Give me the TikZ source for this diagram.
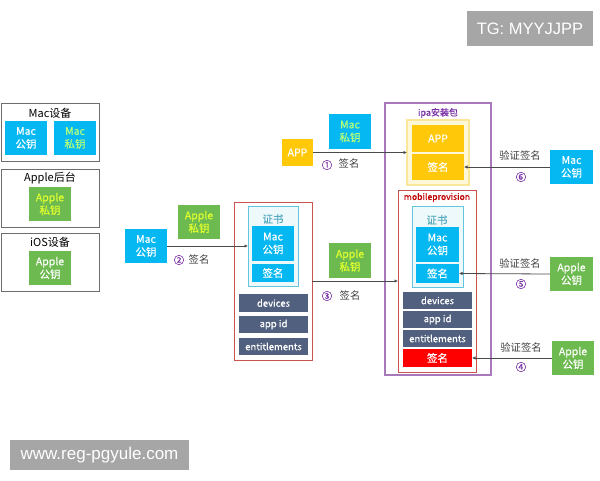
\documentclass[tikz,border=0pt]{standalone}
\usepackage{fontspec}
\setmainfont{Noto Sans CJK SC}
\newfontfamily\medfont[FakeBold=0.35]{Noto Sans CJK SC}
\newfontfamily\wmfont{Liberation Sans}
\usetikzlibrary{arrows.meta}
\definecolor{cyanbox}{HTML}{05B8F2}
\definecolor{greenbox}{HTML}{6DBB50}
\definecolor{goldbox}{HTML}{FFC90A}
\definecolor{slatebox}{HTML}{50607E}
\definecolor{limetxt}{HTML}{E2FF2E}
\definecolor{minttxt}{HTML}{B4FF7A}
\definecolor{framegray}{HTML}{6E6E6E}
\definecolor{framered}{HTML}{C9544F}
\definecolor{framepurple}{HTML}{A878BC}
\definecolor{framecyan}{HTML}{62C6DE}
\definecolor{frameyellow}{HTML}{FBE79A}
\definecolor{fillyellow}{HTML}{FFF8D8}
\definecolor{fillcyan}{HTML}{EEF9FC}
\definecolor{circlepurple}{HTML}{7A2FA8}
\definecolor{wmgray}{HTML}{A6A6A6}
\definecolor{linegray}{HTML}{4A4A4A}
\tikzset{
  base/.style={inner sep=0pt,outer sep=0pt,align=center,font=\medfont\fontsize{10.5}{13}\selectfont},
  title/.style={base,text=black,font=\fontsize{11}{13}\selectfont},
  keybox/.style={base,text=white},
  cyanfill/.style={keybox,fill=cyanbox},
  greenfill/.style={keybox,fill=greenbox},
  goldfill/.style={keybox,fill=goldbox},
  slatefill/.style={keybox,fill=slatebox,font=\medfont\fontsize{9.5}{12}\selectfont},
  redfill/.style={keybox,fill=red},
  grayframe/.style={base,draw=framegray,line width=1pt},
  redframe/.style={base,draw=framered,line width=1pt},
  purpleframe/.style={base,draw=framepurple,line width=1.2pt},
  cyanframe/.style={base,draw=framecyan,fill=fillcyan,line width=1pt},
  yellowframe/.style={base,draw=frameyellow,fill=fillyellow,line width=1.2pt},
  label/.style={base,text=black!75,font=\fontsize{10.3}{12}\selectfont},
  num/.style={base,text=circlepurple,font=\medfont\fontsize{10.5}{12}\selectfont},
  wire/.style={draw=linegray,line width=0.8pt,-{Latex[length=3.5pt,width=3.5pt]}},
  wmbox/.style={inner sep=0pt,outer sep=0pt,fill=wmgray,text=white}
}
\newcommand{\bx}[7][]{%
  \pgfmathsetmacro{\cxv}{(#3+#5)/2}\pgfmathsetmacro{\cyv}{(#4+#6)/2}%
  \pgfmathsetmacro{\wv}{#5-#3}\pgfmathsetmacro{\hv}{#6-#4}%
  \node[#1,minimum width=\wv pt,minimum height=\hv pt] (#2) at (\cxv,\cyv) {#7};}
\begin{document}
\begin{tikzpicture}[x=1pt,y=-1pt]
\useasboundingbox[fill=white] (0,0) rectangle (600,480);
% watermarks
\bx[wmbox,font=\wmfont\fontsize{16.5}{18}\selectfont]{wmtop}{467}{11}{593}{46}{TG: MYYJJPP}
\bx[wmbox,font=\wmfont\fontsize{17}{18}\selectfont]{wmbot}{10}{440}{189}{470}{www.reg-pgyule.com}
% left legend
\bx[grayframe]{fmac}{1.5}{103.5}{99}{161}{}
\node[title] (tmac) at (50,113) {Mac设备};
\bx[cyanfill]{lmacpub}{5}{121}{47}{155}{Mac\\公钥}
\bx[cyanfill,text=minttxt]{lmacpri}{54}{121}{96}{155}{Mac\\私钥}
\bx[grayframe]{fapple}{1.5}{169}{99}{227}{}
\node[title] (tapple) at (50,178) {Apple后台};
\bx[greenfill,text=limetxt]{lapplepri}{29}{187}{71}{221}{Apple\\私钥}
\bx[grayframe]{fios}{1.5}{233.5}{99}{291}{}
\node[title] (tios) at (50,242) {iOS设备};
\bx[greenfill]{lapplepub}{29}{251}{71}{285}{Apple\\公钥}
% step 2
\bx[cyanfill]{macb}{125}{229}{167}{263}{Mac\\公钥}
\bx[greenfill,text=limetxt]{apri2}{178}{205}{220}{239}{Apple\\私钥}
\node[num] (n2) at (179,260) {②};
\node[label] (s2) at (199,260) {签名};
% certificate group
\bx[redframe]{cfred}{234}{202}{312}{360}{}
\bx[cyanframe]{cert1}{248}{206}{298}{286}{}
\node[base,text=framecyan!85!black] (ct1) at (273,219) {证书};
\bx[cyanfill]{c1mac}{252}{226}{294}{261}{Mac\\公钥}
\bx[cyanfill]{c1sig}{252}{264}{294}{282}{签名}
\bx[slatefill]{c1dev}{239}{294}{308}{312}{devices}
\bx[slatefill]{c1app}{239}{316}{308}{333}{app id}
\bx[slatefill]{c1ent}{239}{338}{308}{355}{entitlements}
\bx[greenfill,text=limetxt]{apri3}{329}{243}{371}{278}{Apple\\私钥}
\node[num] (n3) at (327,296) {③};
\node[label] (s3) at (350,296) {签名};
% ipa group
\bx[purpleframe]{ipa}{385}{103}{491}{375}{}
\node[base,text=circlepurple,font=\medfont\fontsize{9}{11}\selectfont] (tipa) at (438,113) {ipa安装包};
\bx[yellowframe]{yf}{407}{120}{469}{185}{}
\bx[goldfill]{yapp}{412}{125}{464}{152}{APP}
\bx[goldfill]{ysig}{412}{154}{464}{180}{签名}
\bx[redframe]{mp}{398}{190}{476}{372}{}
\node[base,text=red!75!black,font=\medfont\fontsize{8.7}{11}\selectfont] (tmp) at (437,197.5) {mobileprovision};
\bx[cyanframe]{cert2}{412}{206}{463}{287}{}
\node[base,text=framecyan!85!black] (ct2) at (437,220) {证书};
\bx[cyanfill]{c2mac}{416}{227}{459}{262}{Mac\\公钥}
\bx[cyanfill]{c2sig}{416}{264}{459}{283}{签名}
\bx[slatefill]{c2dev}{403}{292}{472}{309}{devices}
\bx[slatefill]{c2app}{403}{311}{472}{328}{app id}
\bx[slatefill]{c2ent}{403}{330}{472}{347}{entitlements}
\bx[redfill]{c2red}{403}{349}{472}{367}{签名}
% step 1
\bx[goldfill]{appb}{282}{139}{313}{166}{APP}
\bx[cyanfill,text=minttxt]{mpri1}{329}{114}{371}{149}{Mac\\私钥}
\node[num] (n1) at (327,165) {①};
\node[label] (s1) at (349,164) {签名};
% right side
\bx[cyanfill]{rmac}{550}{150}{593}{184}{Mac\\公钥}
\bx[greenfill]{rapple5}{550}{257}{593}{291}{Apple\\公钥}
\bx[greenfill]{rapple4}{552}{341}{594}{375}{Apple\\公钥}
\node[label] (v6) at (520,156) {验证签名};
\node[num] (n6) at (521,177) {⑥};
\node[label] (v5) at (520,264) {验证签名};
\node[num] (n5) at (521,284) {⑤};
\node[label] (v4) at (521,348) {验证签名};
\node[num] (n4) at (521,367) {④};
% connectors
\draw[wire] (appb.east) -- (yf.west);
\draw[wire] (macb.east) -- (cert1.west);
\draw[wire] (cfred.east) -- (mp.west);
\draw[wire] (rmac.west) -- (ysig.east);
\draw[wire] (rapple5.west) -- (c2sig.east);
\draw[wire] (rapple4.west) -- (c2red.east);
\end{tikzpicture}
\end{document}
